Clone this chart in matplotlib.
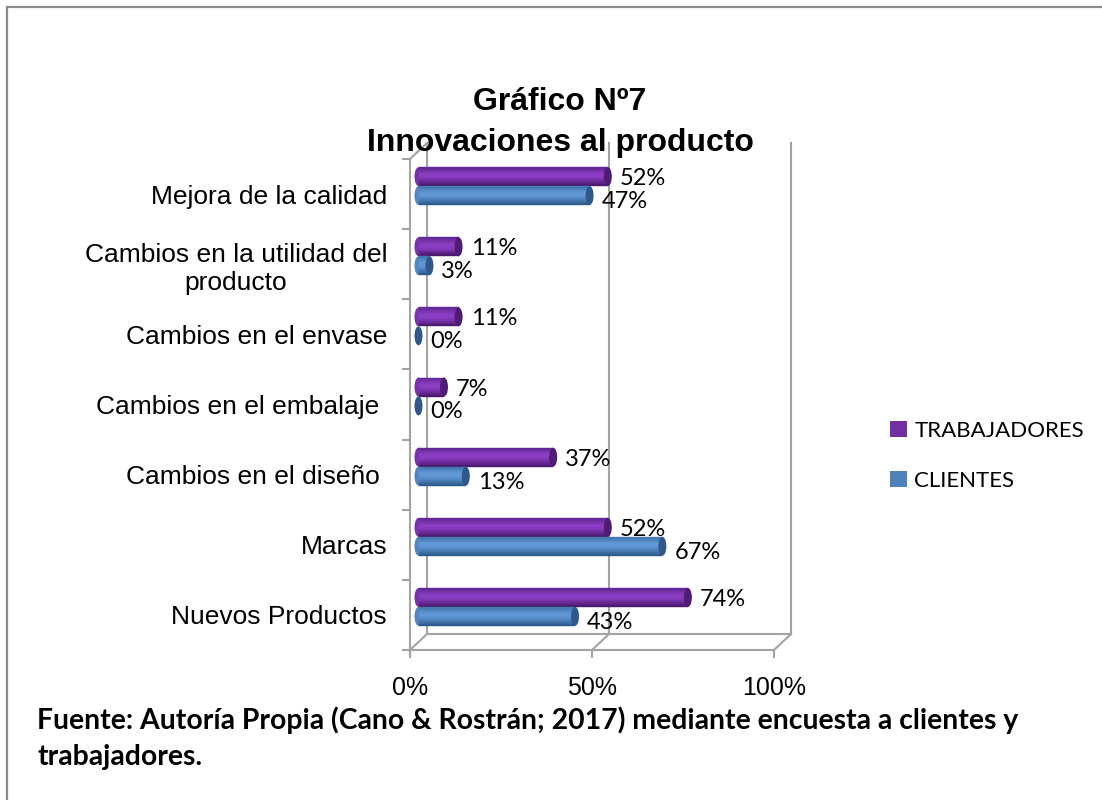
import matplotlib
matplotlib.use("Agg")
import matplotlib.pyplot as plt
import matplotlib.transforms as mtransforms
from matplotlib.patches import Ellipse, Patch, Rectangle
import numpy as np

categories = [
    "Nuevos Productos",
    "Marcas",
    "Cambios en el diseño ",
    "Cambios en el embalaje ",
    "Cambios en el envase",
    "Cambios en la utilidad del\nproducto",
    "Mejora de la calidad",
]
trabajadores = [0.74, 0.52, 0.37, 0.07, 0.11, 0.11, 0.52]
clientes = [0.43, 0.67, 0.13, 0.00, 0.00, 0.03, 0.47]
x_ticks = [0.0, 0.5, 1.0]
x_ticklabels = ["0%", "50%", "100%"]

GRAY = "#a3a3a3"
PURPLE = "#7030a0"
BLUE = "#4f81bd"
# bottom -> top shading of the cylinders
PURPLE_SHADES = ["#4a1a6c", "#5b2384", "#6a2b98", "#7a33ad", "#8639bd", "#8c3fc4", "#8a3dc1", "#7f36b3", "#7230a2", "#63299a"]
BLUE_SHADES = ["#2f5b8c", "#3a6ba0", "#4779b2", "#5287c2", "#5b92cf", "#6199d6", "#5e97d4", "#5890cb", "#4f85bf", "#4679b2"]

W, H, DPI = 1102, 800, 100
fig = plt.figure(figsize=(W / DPI, H / DPI), dpi=DPI)
fig.patch.set_facecolor("white")

# outer frame of the chart object
fig.add_artist(Rectangle((7 / W, -0.05), 1.2, 1 - 6.5 / H + 0.05, transform=fig.transFigure,
                         fill=False, edgecolor="#8c8c8c", linewidth=1.6))

# front plane of the 3d box
left, right, top, bottom = 410, 774, 159, 650
ax = fig.add_axes([left / W, 1 - bottom / H, (right - left) / W, (bottom - top) / H])
ax.set_xlim(0, 1)
ax.set_ylim(-0.5, len(categories) - 0.5)
ax.patch.set_alpha(0)

mid = ax.transData + mtransforms.ScaledTranslation(8.5 / DPI, 8 / DPI, fig.dpi_scale_trans)
back = ax.transData + mtransforms.ScaledTranslation(17 / DPI, 16 / DPI, fig.dpi_scale_trans)

ymin, ymax = -0.5, len(categories) - 0.5
lw = 1.5
# back wall gridlines and floor
for xv in x_ticks:
    ax.plot([xv, xv], [ymin, ymax], color=GRAY, lw=lw, transform=back, clip_on=False, zorder=1)
ax.plot([0, 1], [ymin, ymin], color=GRAY, lw=lw, transform=back, clip_on=False, zorder=1)
# floor depth lines
dx, dy = 17 / (right - left), 16 / ((bottom - top) / len(categories))
for xv in x_ticks:
    ax.plot([xv, xv + dx], [ymin, ymin + dy], color=GRAY, lw=lw, clip_on=False, zorder=1)
ax.plot([0, dx], [ymax, ymax + dy], color=GRAY, lw=lw, clip_on=False, zorder=1)

# bars as shaded cylinders
bh = 0.27
cap_w = 8 / (right - left)
for i in range(len(categories)):
    for value, yc, shades, cap, drop in (
        (trabajadores[i], i + bh / 2, PURPLE_SHADES, "#4e1c73", 2),
        (clientes[i], i - bh / 2, BLUE_SHADES, "#30598a", 6),
    ):
        n = len(shades)
        if value > 0:
            ax.add_patch(Ellipse((0, yc), cap_w, bh, facecolor=shades[3], edgecolor="none",
                                 transform=mid, zorder=3))
            for k, c in enumerate(shades):
                y0 = yc - bh / 2 + k * bh / n
                ax.barh(y0, value, height=bh / n, left=0, align="edge", color=c,
                        edgecolor=c, linewidth=0.3, transform=mid, zorder=3)
        ax.add_patch(Ellipse((value, yc), cap_w, bh, facecolor=cap, edgecolor="none",
                             transform=mid, zorder=4))
        shift = mtransforms.ScaledTranslation(12 / DPI, -drop / DPI, fig.dpi_scale_trans)
        ax.text(value, yc, f"{round(value * 100):d}%", transform=mid + shift,
                ha="left", va="center", fontsize=17, family="Lato", color="black", zorder=5)

# axes styling
for side in ("top", "right"):
    ax.spines[side].set_visible(False)
for side in ("left", "bottom"):
    ax.spines[side].set_color(GRAY)
    ax.spines[side].set_linewidth(lw)
    ax.spines[side].set_zorder(0)

ax.set_yticks(range(len(categories)))
ax.set_yticklabels(categories, fontsize=19, family="Liberation Sans", multialignment="center")
ax.tick_params(axis="y", which="major", length=0, pad=16.5)
ax.set_yticks(np.arange(-0.5, len(categories), 1.0), minor=True)
ax.tick_params(axis="y", which="minor", length=6, width=lw, color=GRAY)

ax.set_xticks(x_ticks)
ax.set_xticklabels(x_ticklabels, fontsize=18, family="Liberation Sans")
ax.tick_params(axis="x", length=6, width=lw, color=GRAY, pad=13)

# legend
handles = [Patch(facecolor=PURPLE, label="TRABAJADORES"), Patch(facecolor=BLUE, label="CLIENTES")]
fig.legend(handles=handles, loc="center left", bbox_to_anchor=(870 / W, 1 - 456 / H), frameon=False,
           prop={"family": "Lato", "size": 16}, handlelength=0.75, handleheight=0.75,
           handletextpad=0.35, labelspacing=1.35)

# title
fig.text(560 / W, 1 - 102 / H, "Gráfico Nº7", ha="center", va="center", fontsize=23,
         fontweight="bold", family="Liberation Sans")
fig.text(560 / W, 1 - 143 / H, "Innovaciones al producto", ha="center", va="center", fontsize=23,
         fontweight="bold", family="Liberation Sans")

# source note
fig.text(37 / W, 1 - 720 / H, "Fuente: Autoría Propia (Cano & Rostrán; 2017) mediante encuesta a clientes y",
         ha="left", va="center", fontsize=20.4, fontweight="bold", family="Lato")
fig.text(37 / W, 1 - 757 / H, "trabajadores.", ha="left", va="center", fontsize=20.4,
         fontweight="bold", family="Lato")

fig.savefig("out.png", dpi=DPI, facecolor="white")
